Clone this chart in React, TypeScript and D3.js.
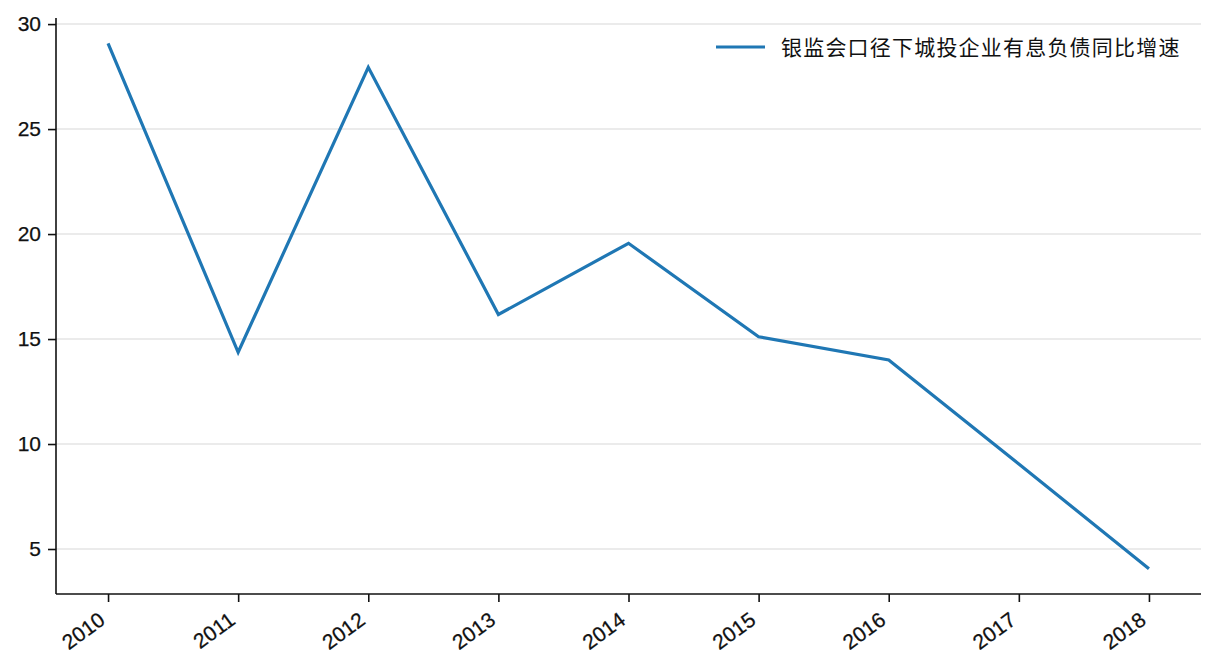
import { useRef, useEffect } from "react";
import * as d3 from "d3";

const years = [2010, 2011, 2012, 2013, 2014, 2015, 2016, 2017, 2018];
const growth = [29.08, 14.37, 27.94, 16.17, 19.56, 15.11, 14.0, 9.05, 4.06];
const yTicks = [5, 10, 15, 20, 25, 30];
const seriesName = "银监会口径下城投企业有息负债同比增速";

const WIDTH = 1216;
const HEIGHT = 672;
const LINE_COLOR = "#1f77b4";
const FONT = "'Liberation Sans', Arial, sans-serif";

export default function App() {
  const svgRef = useRef<SVGSVGElement>(null);

  useEffect(() => {
    if (!svgRef.current) return;
    const svg = d3.select(svgRef.current);
    svg.selectAll("*").remove();

    const left = 56;
    const right = 1201;
    const top = 18;
    const bottom = 594;

    const x = d3.scaleLinear().domain([2009.6, 2018.4]).range([left, right]);
    const y = d3.scaleLinear().domain([2.857, 30.29]).range([bottom, top]);

    // grid
    svg
      .append("g")
      .selectAll("line")
      .data(yTicks)
      .join("line")
      .attr("x1", left)
      .attr("x2", right)
      .attr("y1", (d) => y(d))
      .attr("y2", (d) => y(d))
      .attr("stroke", "#e5e5e5")
      .attr("stroke-width", 1.5);

    // line
    const line = d3
      .line<number>()
      .x((_, i) => x(years[i]))
      .y((d) => y(d));

    svg
      .append("path")
      .datum(growth)
      .attr("d", line)
      .attr("fill", "none")
      .attr("stroke", LINE_COLOR)
      .attr("stroke-width", 3.2)
      .attr("stroke-linejoin", "miter");

    // axes
    const yAxis = svg
      .append("g")
      .attr("transform", `translate(${left},0)`)
      .call(d3.axisLeft(y).tickValues(yTicks).tickSize(8).tickPadding(7).tickSizeOuter(0));
    yAxis.select(".domain").attr("d", `M0,${top}V${bottom}`);

    const xAxis = svg
      .append("g")
      .attr("transform", `translate(0,${bottom})`)
      .call(
        d3
          .axisBottom(x)
          .tickValues(years)
          .tickFormat(d3.format("d"))
          .tickSize(8)
          .tickSizeOuter(0),
      );
    xAxis.select(".domain").attr("d", `M${left},0H${right}`);

    xAxis
      .selectAll("text")
      .attr("text-anchor", "end")
      .attr("dy", null)
      .attr("y", null)
      .attr("transform", "translate(-2,29) rotate(-36)");

    svg
      .selectAll(".domain, .tick line")
      .attr("stroke", "#111")
      .attr("stroke-width", 1.6);
    svg
      .selectAll(".tick text")
      .attr("fill", "#111")
      .attr("font-size", 21)
      .attr("font-family", FONT)
      .attr("stroke", "#111")
      .attr("stroke-width", 0.25);

    // legend
    const legend = svg.append("g");
    legend
      .append("line")
      .attr("x1", 716)
      .attr("x2", 765)
      .attr("y1", 47)
      .attr("y2", 47)
      .attr("stroke", LINE_COLOR)
      .attr("stroke-width", 3.2);
    legend
      .append("text")
      .attr("x", 781)
      .attr("y", 55)
      .attr("font-size", 21)
      .attr("letter-spacing", 1.2)
      .attr("font-family", "'Noto Sans CJK SC', sans-serif")
      .attr("fill", "#111")
      .text(seriesName);
  }, []);

  return (
    <div style={{ position: "absolute", left: 0, top: 0, background: "#fff" }}>
      <svg ref={svgRef} width={WIDTH} height={HEIGHT} style={{ display: "block" }} />
    </div>
  );
}
